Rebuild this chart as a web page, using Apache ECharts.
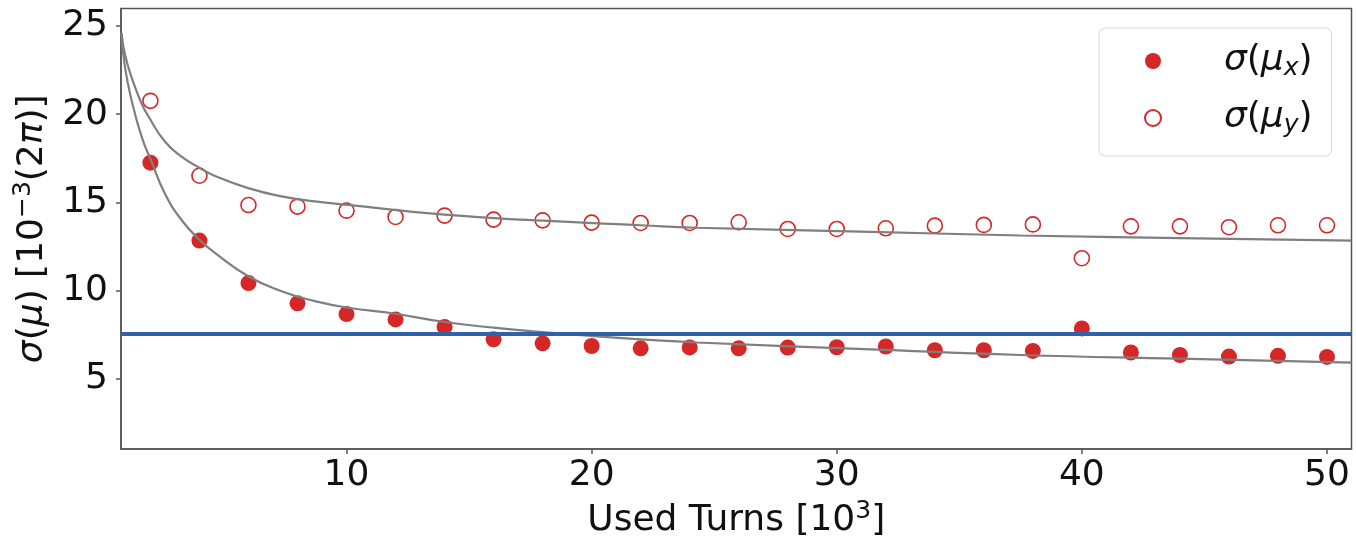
<!DOCTYPE html>
<html>
<head>
<meta charset="utf-8">
<script src="https://cdn.jsdelivr.net/npm/echarts@6/dist/echarts.min.js"></script>
<style>
  html, body { margin: 0; padding: 0; background: #fff; }
  #chart { width: 1356px; height: 544px; }
</style>
</head>
<body>
<div id="chart"></div>
<script>
// Measured tune spread versus number of turns used (in thousands)
const turns = [2, 4, 6, 8, 10, 12, 14, 16, 18, 20, 22, 24, 26, 28, 30, 32, 34, 36, 38, 40, 42, 44, 46, 48, 50];
const sigmaMuX = [17.25, 12.83, 10.42, 9.27, 8.66, 8.36, 7.93, 7.23, 7.00, 6.85, 6.72, 6.77, 6.72, 6.76, 6.78, 6.82, 6.61, 6.61, 6.57, 7.85, 6.48, 6.34, 6.25, 6.29, 6.23];
const sigmaMuY = [20.76, 16.51, 14.85, 14.76, 14.53, 14.17, 14.25, 14.02, 13.98, 13.85, 13.83, 13.83, 13.87, 13.49, 13.49, 13.53, 13.68, 13.72, 13.75, 11.83, 13.64, 13.64, 13.59, 13.70, 13.70];

// Fitted trend curves
const fitTurnsY = [0.82, 0.96, 1.23, 1.64, 1.91, 2.59, 3.27, 4.02, 4.63, 5.99, 7.35, 8.71, 10.07, 14, 18, 22, 24.3, 31.4, 37.5, 44, 51];
const fitSigmaY = [24.6, 23.4, 22.1, 20.6, 19.9, 18.45, 17.6, 16.95, 16.5, 15.81, 15.34, 15.06, 14.86, 14.3, 13.96, 13.70, 13.56, 13.33, 13.12, 12.97, 12.83];
const fitTurnsX = [0.82, 0.96, 1.23, 1.64, 2.02, 2.59, 3.27, 4.02, 4.63, 5.99, 7.35, 8.71, 10.07, 12, 14, 16, 18, 20, 22, 24.3, 31.4, 37.5, 44, 51];
const fitSigmaX = [24.6, 22.7, 20.8, 18.73, 17.4, 15.5, 14.0, 12.85, 12.14, 10.81, 9.96, 9.40, 9.02, 8.68, 8.21, 7.89, 7.64, 7.42, 7.23, 7.05, 6.66, 6.34, 6.13, 5.91];

// Reference level
const thresholdLevel = 7.57;

// Axis ticks
const xTicks = [10, 20, 30, 40, 50];
const yTicks = [5, 10, 15, 20, 25];

const zip = (xs, ys) => xs.map((x, i) => [x, ys[i]]);

const FONT = 'DejaVu Sans';
const FS = 36;
const richText = {
  up: { fontFamily: FONT, fontSize: FS, lineHeight: 44, color: '#111' },
  it: { fontFamily: FONT, fontSize: FS, lineHeight: 44, fontStyle: 'italic', color: '#111' },
  sup: { fontFamily: FONT, fontSize: 25, lineHeight: 25, verticalAlign: 'top', color: '#111' },
  sub: { fontFamily: FONT, fontSize: 25, lineHeight: 25, fontStyle: 'italic', verticalAlign: 'bottom', color: '#111' },
  pad: { fontFamily: FONT, fontSize: FS, lineHeight: 40, fontStyle: 'italic', color: '#111', padding: [0, 0, 0, 58] },
  itl: { fontFamily: FONT, fontSize: FS, lineHeight: 40, fontStyle: 'italic', color: '#111' },
  upl: { fontFamily: FONT, fontSize: FS, lineHeight: 40, color: '#111' }
};

const legendNames = { 'sx': 'x', 'sy': 'y' };

const chart = echarts.init(document.getElementById('chart'), null, { renderer: 'canvas' });
chart.setOption({
  animation: false,
  backgroundColor: '#fff',
  grid: {
    left: 121, right: 4.5, top: 8.5, bottom: 94,
    show: true, borderColor: '#555', borderWidth: 1.5, backgroundColor: 'transparent'
  },
  legend: {
    data: ['sx', 'sy'],
    orient: 'vertical',
    left: 1099, top: 28,
    padding: [15, 19, 18, 45],
    itemGap: 19,
    itemWidth: 16, itemHeight: 16,
    backgroundColor: 'rgba(255,255,255,0.85)',
    borderColor: '#d6d6d6', borderWidth: 1, borderRadius: 6,
    formatter: name => '{pad|σ}{upl|(}{itl|μ}{sub|' + legendNames[name] + '}{upl|)}',
    textStyle: { rich: richText }
  },
  xAxis: {
    type: 'value',
    min: 0.8, max: 51,
    name: '{up|Used Turns [10}{sup|3}{up|]}',
    nameLocation: 'middle',
    nameGap: 48,
    nameTextStyle: { rich: richText },
    axisLine: { show: true, lineStyle: { color: '#555', width: 1.5 } },
    axisTick: { show: true, length: 5, inside: false, customValues: xTicks, lineStyle: { color: '#555', width: 1.5 } },
    axisLabel: { customValues: xTicks, margin: 9, fontFamily: FONT, fontSize: FS, color: '#111' },
    splitLine: { show: false }
  },
  yAxis: {
    type: 'value',
    min: 1, max: 26,
    name: '{it|σ}{up|(}{it|μ}{up|) [10}{sup|−3}{up|(2}{it|π}{up|)]}',
    nameLocation: 'middle',
    nameGap: 66,
    nameTextStyle: { rich: richText },
    axisLine: { show: true, lineStyle: { color: '#555', width: 1.5 } },
    axisTick: { show: true, length: 5, inside: false, customValues: yTicks, lineStyle: { color: '#555', width: 1.5 } },
    axisLabel: { customValues: yTicks, margin: 13, fontFamily: FONT, fontSize: FS, color: '#111' },
    splitLine: { show: false }
  },
  series: [
    {
      name: 'sx',
      type: 'scatter',
      data: zip(turns, sigmaMuX),
      symbol: 'circle',
      symbolSize: 16,
      itemStyle: { color: '#d62728', opacity: 1 },
      z: 2
    },
    {
      name: 'sy',
      type: 'scatter',
      data: zip(turns, sigmaMuY),
      symbol: 'circle',
      symbolSize: 15,
      itemStyle: { color: 'rgba(255,255,255,0)', borderColor: '#d62728', borderWidth: 1.6, opacity: 1 },
      z: 2
    },
    {
      name: 'fitY',
      type: 'line',
      data: zip(fitTurnsY, fitSigmaY),
      showSymbol: false,
      smooth: 0.5,
      lineStyle: { color: '#7f7f7f', width: 2.2 },
      z: 3
    },
    {
      name: 'fitX',
      type: 'line',
      data: zip(fitTurnsX, fitSigmaX),
      showSymbol: false,
      smooth: 0.5,
      lineStyle: { color: '#7f7f7f', width: 2.2 },
      z: 3,
      markLine: {
        silent: true,
        symbol: ['none', 'none'],
        label: { show: false },
        lineStyle: { color: '#2f63a9', width: 4, type: 'solid' },
        data: [{ yAxis: thresholdLevel }],
        z: 4
      }
    }
  ]
});
</script>
</body>
</html>
